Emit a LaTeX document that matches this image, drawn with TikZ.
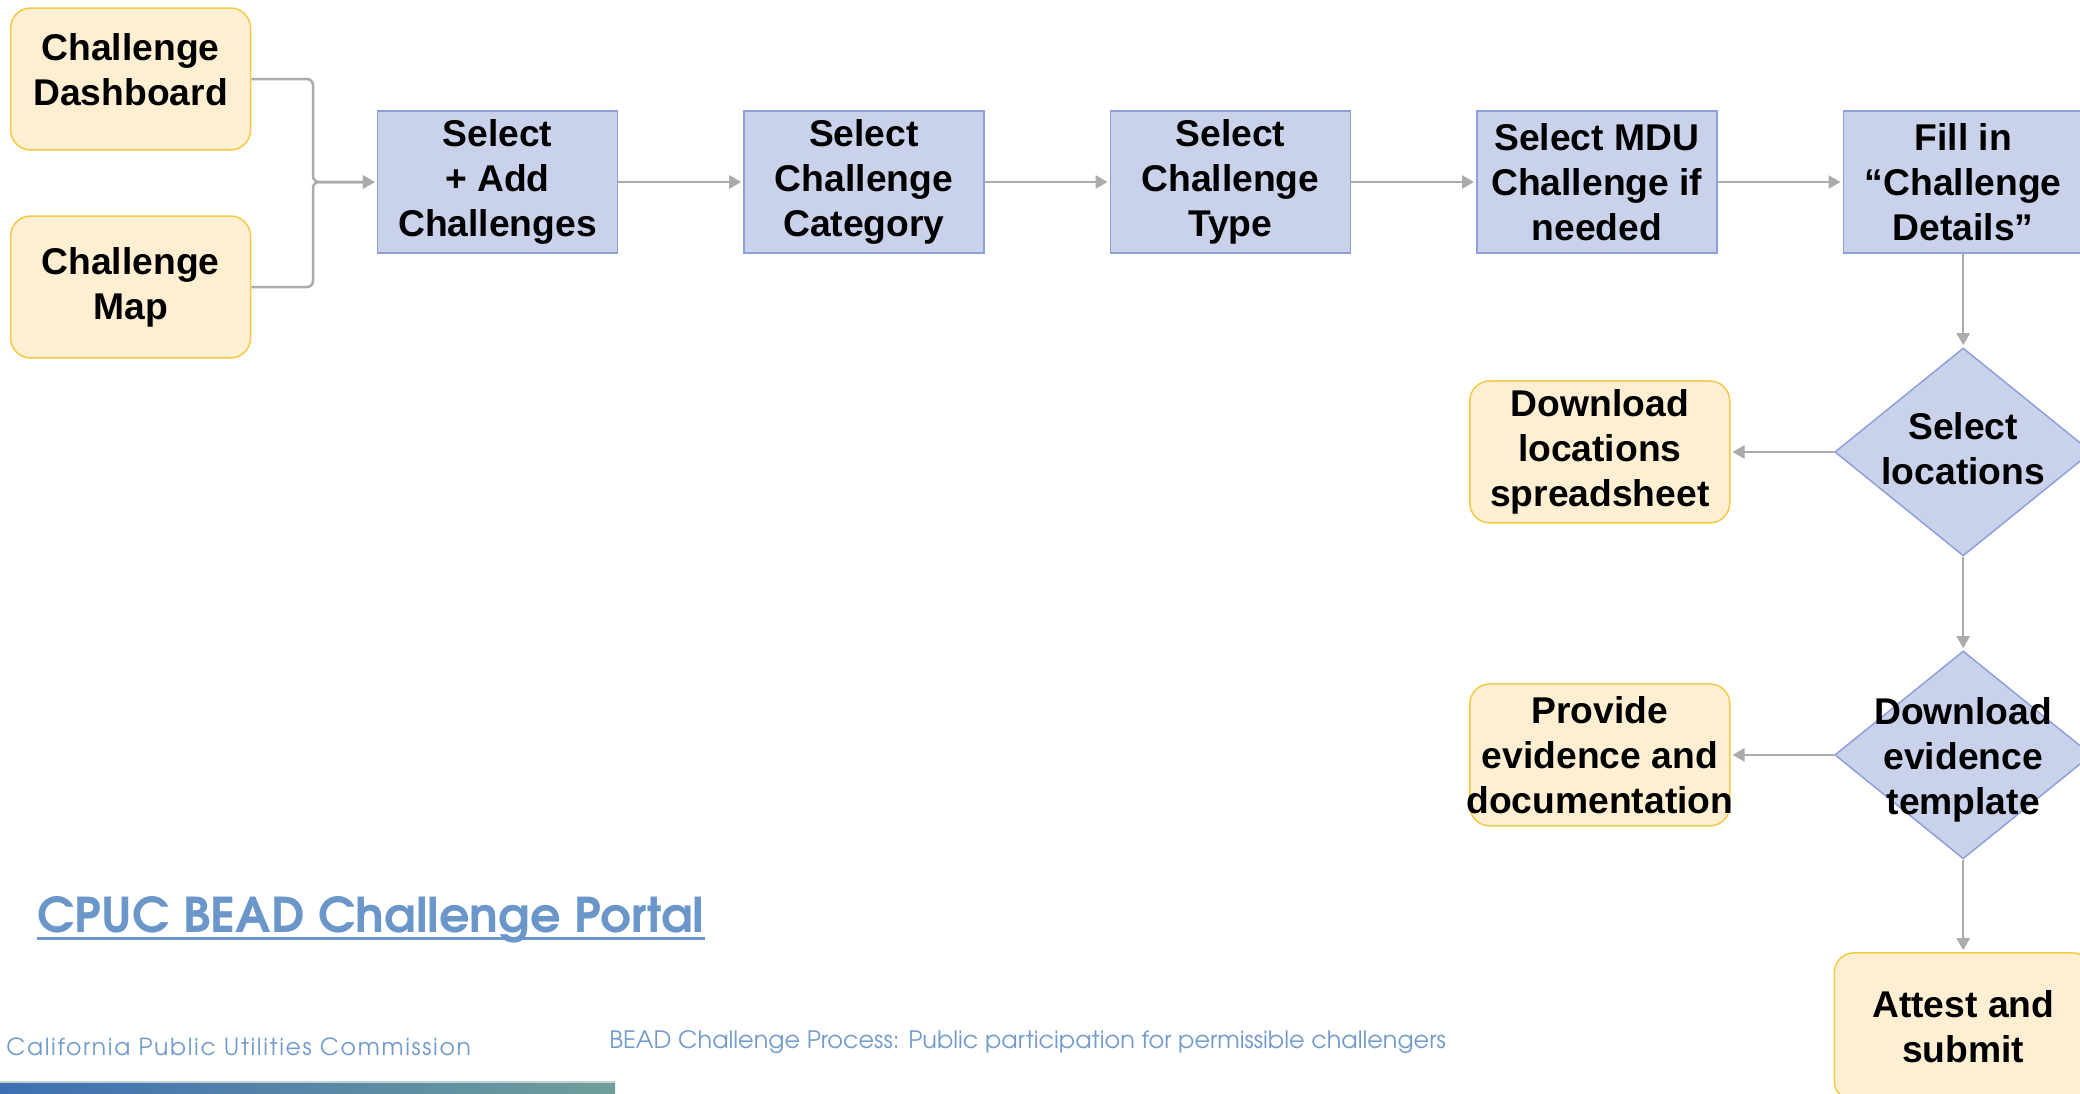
\documentclass[tikz,border=0pt]{standalone}
\usepackage{fontspec}
\setmainfont{Liberation Sans}
\newfontfamily\gothic{TeX Gyre Adventor}
\usetikzlibrary{shapes.geometric,arrows.meta,positioning}
\definecolor{procfill}{HTML}{C9D2EA}
\definecolor{procline}{HTML}{8FA0D8}
\definecolor{notefill}{HTML}{FEEFD3}
\definecolor{noteline}{HTML}{F5C945}
\definecolor{linegray}{HTML}{ABABAB}
\definecolor{portalblue}{HTML}{6A96CA}
\definecolor{footblue}{HTML}{729BCC}
\definecolor{barleft}{HTML}{3E6FB3}
\definecolor{barright}{HTML}{6F9E9A}
\newcommand{\squeeze}[2]{\makebox[0pt]{\smash{\raisebox{#1}{\begin{tabular}{@{}c@{}}#2\end{tabular}}}}}

\begin{document}
\begin{tikzpicture}[x=0.02cm, y=-0.02cm, node distance=7.33cm,
  font=\bfseries\fontsize{21.2}{25.6}\selectfont,
  proc/.style = {draw=procline, fill=procfill, line width=0.03cm, minimum width=4.8cm, minimum height=2.84cm, inner sep=0, align=center},
  note/.style = {draw=noteline, fill=notefill, line width=0.03cm, rounded corners=0.4cm, minimum width=4.8cm, minimum height=2.84cm, inner sep=0, align=center},
  choice/.style = {diamond, draw=procline, fill=procfill, line width=0.03cm, minimum width=5.14cm, minimum height=4.16cm, inner sep=0},
  flow/.style = {draw=linegray, line width=0.05cm, -{Triangle[length=0.24cm,width=0.26cm]}, shorten >=0.04cm}]
                  \useasboundingbox (0,0) rectangle (2080,1093);
                  \clip (0,0) rectangle (2080,1093);
                  % top row
                  \node[note] (1) at (130.6,79) {\squeeze{-0.08cm}{Challenge\\Dashboard}};
                  \node[note] (2) at (130.6,287) {Challenge\\Map};
                  \node[proc] (3) at (497.5,182) {Select\\+ Add\\Challenges};
                  \node[proc] (4) [right of=3] {Select\\Challenge\\Category};
                  \node[proc] (5) [right of=4] {Select\\Challenge\\Type};
                  \node[proc] (6) [right of=5] {Select MDU\\Challenge if\\needed};
                  \node[proc] (7) [right of=6] {Fill in\\“Challenge\\Details”};
                  % right column
                  \node[choice] (8) [below of=7, node distance=5.4cm] {\squeeze{-0.21cm}{Select\\locations}};
                  \node[note, minimum width=5.2cm] (9) [left of=8, node distance=7.27cm] {Download\\locations\\spreadsheet};
                  \node[choice] (10) [below of=8, node distance=6.06cm] {\squeeze{-0.29cm}{Download\\evidence\\template}};
                  \node[note, minimum width=5.2cm] (11) [left of=10, node distance=7.27cm] {Provide\\evidence and\\\makebox[0pt]{documentation}};
                  \node[note, minimum width=5.16cm, minimum height=2.96cm] (12) [below of=10, node distance=5.44cm] {Attest and\\submit};
                  \coordinate (join) at (313,182);
                  \draw[flow, rounded corners=0.12cm] (1.east) -| (join) -- (3);
                  \draw[flow, rounded corners=0.12cm] (2.east) -| (join) -- (3);
                  \draw[flow] (3) -- (4);
                  \draw[flow] (4) -- (5);
                  \draw[flow] (5) -- (6);
                  \draw[flow] (6) -- (7);
                  \draw[flow] (7) -- (8);
                  \draw[flow] (8) -- (9);
                  \draw[flow] (8) -- (10);
                  \draw[flow] (10) -- (11);
                  \draw[flow] (10) -- (12);
                  % link and footer
                  \node[anchor=base west, inner sep=0, text=portalblue, font=\gothic\bfseries\fontsize{27.3}{30}\selectfont] (portal) at (37,932) {CPUC BEAD Challenge Portal};
                  \draw[portalblue, line width=0.06cm] ([yshift=-0.12cm]portal.base west) -- ([yshift=-0.12cm]portal.base east);
                  \node[anchor=base west, inner sep=0, text=footblue, font=\gothic\fontsize{13.4}{15}\selectfont\addfontfeature{LetterSpace=7}] (cpuc) at (6,1055) {California Public Utilities Commission};
                  \node[anchor=base west, inner sep=0, text=footblue, font=\gothic\fontsize{13.64}{15}\selectfont] (process) at (609,1048) {BEAD Challenge Process: Public participation for permissible challengers};
                  \shade[left color=barleft, right color=barright] (0,1082) rectangle (615,1093);
                  \draw[barright!45!white, line width=0.03cm] (0,1082) -- (615,1082);
              \end{tikzpicture}
\end{document}
